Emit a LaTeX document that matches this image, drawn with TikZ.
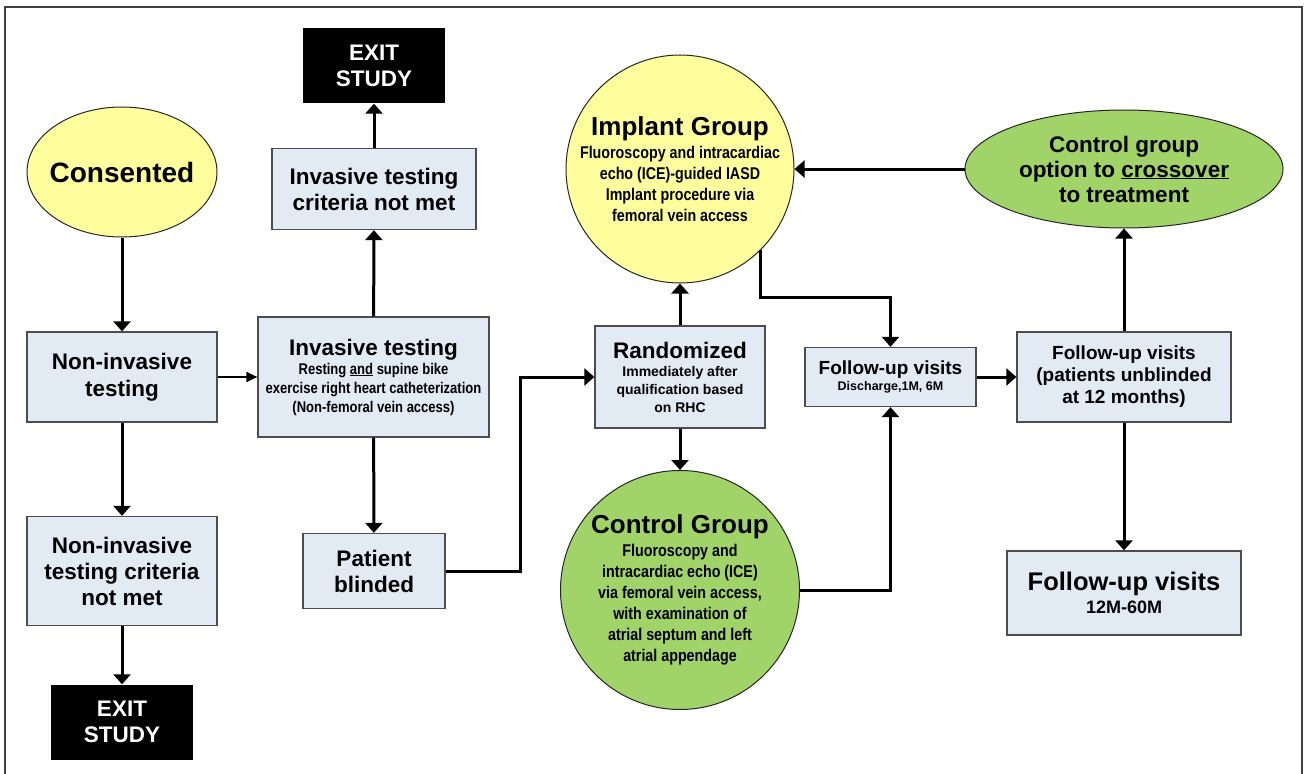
\documentclass[tikz,border=0pt]{standalone}
\usepackage{fontspec}
\setmainfont{Liberation Sans}
\newfontfamily\narrowfont{Liberation Sans}[FakeStretch=0.84]
\usetikzlibrary{arrows.meta,shapes.geometric,calc}
\definecolor{boxblue}{HTML}{E2EAF4}
\definecolor{cyel}{HTML}{FFFF9E}
\definecolor{cgreen}{HTML}{A0D468}
\definecolor{bord}{HTML}{4D4D4D}
\newcommand{\fsz}[2]{\fontsize{#1}{#2}\selectfont}
\begin{document}
\begin{tikzpicture}[x=1pt,y=-1pt,
  box/.style={draw=bord,line width=1.3pt,fill=boxblue,align=center,inner sep=0pt,font=\bfseries},
  exitbox/.style={fill=black,text=white,align=center,inner sep=0pt,minimum width=142pt,minimum height=75pt,font=\bfseries\fsz{22.5}{26}},
  roundshape/.style={draw=black!85,line width=1pt,inner sep=0pt},
  inner/.style={align=center,inner sep=0pt},
  arr/.style={line width=3pt,-{Triangle[length=10pt,width=17pt]}},
  thinarr/.style={line width=1.5pt,-{Triangle[length=11pt,width=10pt]}}]
\path[use as bounding box] (0,0) rectangle (1305,773);
\draw[line width=1.5pt,draw=black!75] (5,800) -- (5,7) -- (1302,7) -- (1302,800);

% left column
\node[roundshape,ellipse,fill=cyel,minimum width=190pt,minimum height=130pt,
  label={[inner,font=\bfseries\fsz{28}{32}]center:Consented}] (cons) at (122,172) {};
\node[box,minimum width=190pt,minimum height=90pt,font=\bfseries\fsz{22.5}{27}] (ni) at (122,377) {Non-invasive\\testing};
\node[box,minimum width=190pt,minimum height=109pt,font=\bfseries\fsz{22.5}{26}] (nicrit) at (122,571) {Non-invasive\\testing criteria\\not met};
\node[exitbox] (exit2) at (122,722) {EXIT\\STUDY};

% second column
\node[exitbox] (exit1) at (374,66) {EXIT\\STUDY};
\node[box,minimum width=204pt,minimum height=81pt,font=\bfseries\fsz{22.5}{26}] (invcrit) at (374,189) {Invasive testing\\criteria not met};
\node[box,minimum width=231pt,minimum height=120pt,font=\bfseries\narrowfont\fsz{15.5}{19}] (inv) at (373.5,377)
  {{\rmfamily\fsz{22.5}{19}Invasive testing}\\Resting \underline{and} supine bike\\exercise right heart catheterization\\(Non-femoral vein access)};
\node[box,minimum width=142pt,minimum height=75pt,font=\bfseries\fsz{22.5}{26}] (blind) at (374,571) {Patient\\blinded};

% middle column
\node[box,minimum width=170pt,minimum height=102pt,font=\bfseries\fsz{14}{18}] (rand) at (680,377)
  {{\fsz{22.5}{18}Randomized}\\Immediately after\\qualification based\\on RHC};
\node[roundshape,circle,fill=cyel,minimum size=228pt,
  label={[inner,font=\bfseries\narrowfont\fsz{17}{21}]center:{{\rmfamily\fsz{26}{21}Implant Group}\\[2pt]Fluoroscopy and intracardiac\\echo (ICE)-guided IASD\\Implant procedure via\\femoral vein access}}] (implant) at (680,169) {};
\node[roundshape,circle,fill=cgreen,minimum size=239pt,
  label={[inner,font=\bfseries\narrowfont\fsz{17}{21}]center:{{\rmfamily\fsz{26}{21}Control Group}\\[2pt]Fluoroscopy and\\intracardiac echo (ICE)\\via femoral vein access,\\with examination of\\atrial septum and left\\atrial appendage}}] (control) at (680,590) {};

% right part
\node[box,minimum width=171pt,minimum height=59pt,font=\bfseries\fsz{12.5}{16}] (fu1) at (890.5,377)
  {{\fsz{19}{16}Follow-up visits}\\Discharge,1M, 6M};
\node[box,minimum width=214pt,minimum height=90pt,font=\bfseries\fsz{19}{22}] (fu2) at (1124,377)
  {Follow-up visits\\(patients unblinded\\at 12 months)};
\node[box,minimum width=234pt,minimum height=84pt,font=\bfseries\fsz{18}{23}] (fu3) at (1124,593)
  {{\fsz{25.5}{23}Follow-up visits}\\12M-60M};
\node[roundshape,ellipse,fill=cgreen,minimum width=318pt,minimum height=118pt,
  label={[inner,font=\bfseries\fsz{22.5}{25}]center:{Control group\\option to \underline{crossover}\\to treatment}}] (cross) at (1124,169) {};

% connectors
\draw[arr] (cons) -- (ni);
\draw[arr] (ni) -- (nicrit);
\draw[arr] (nicrit) -- (exit2);
\draw[thinarr] (ni) -- (inv);
\draw[arr] (inv) -- (invcrit);
\draw[arr] (invcrit) -- (exit1);
\draw[arr] (inv) -- (blind);
\draw[arr] (blind.east) -- ++(75,0) |- (rand.west);
\draw[arr] (rand) -- (implant);
\draw[arr] (rand) -- (control);
\draw[arr] (implant.south east) -- ++(0,48) -| (fu1.north);
\draw[arr] (control.east) -| (fu1.south);
\draw[arr] (fu1) -- (fu2);
\draw[arr] (fu2) -- (cross);
\draw[arr] (fu2) -- (fu3);
\draw[arr] (cross) -- (implant);
\end{tikzpicture}
\end{document}
